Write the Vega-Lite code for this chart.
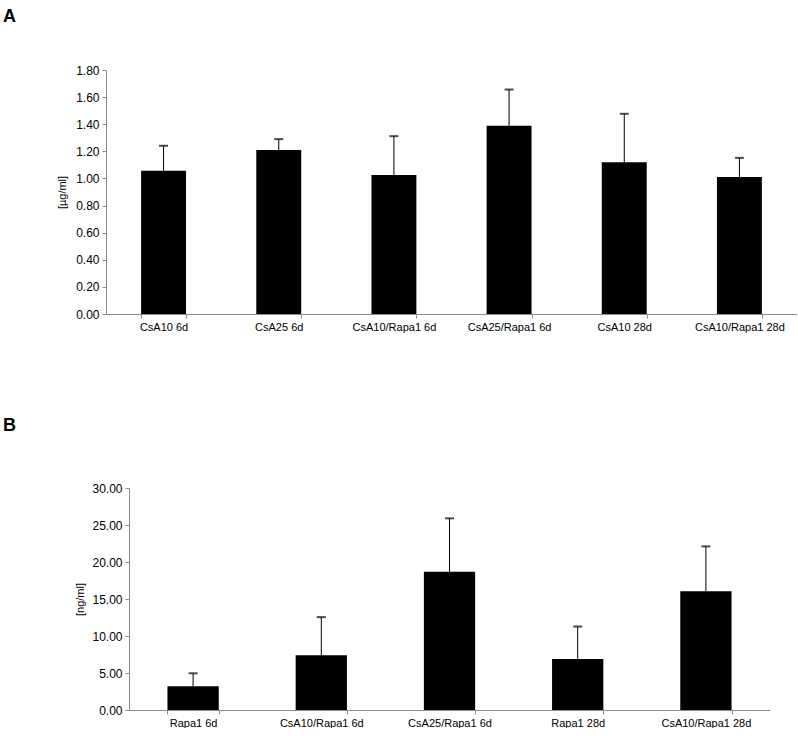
{
  "$schema": "https://vega.github.io/schema/vega-lite/v6.json",
  "background": "white",
  "padding": {"left": 3, "top": 8, "right": 0, "bottom": 0},
  "spacing": 174,
  "bounds": "flush",
  "config": {
    "view": {"stroke": null},
    "font": "Liberation Sans",
    "axis": {
      "labelFont": "Liberation Sans",
      "titleFont": "Liberation Sans",
      "labelFontSize": 11,
      "titleFontSize": 11,
      "titleFontWeight": "normal",
      "labelColor": "#000000",
      "titleColor": "#000000",
      "domainColor": "#8c8c8c",
      "tickColor": "#8c8c8c",
      "tickSize": 4,
      "labelPadding": 3,
      "grid": false
    },
    "axisY": {"labelFontSize": 12},
    "title": {"font": "Liberation Sans", "fontSize": 18, "fontWeight": "bold", "color": "#000000", "anchor": "start", "frame": "group"}
  },
  "datasets": {
    "a": [
      {"group": "CsA10 6d", "mean": 1.056, "upper": 1.241},
      {"group": "CsA25 6d", "mean": 1.209, "upper": 1.290},
      {"group": "CsA10/Rapa1 6d", "mean": 1.025, "upper": 1.312},
      {"group": "CsA25/Rapa1 6d", "mean": 1.388, "upper": 1.656},
      {"group": "CsA10 28d", "mean": 1.120, "upper": 1.477},
      {"group": "CsA10/Rapa1 28d", "mean": 1.010, "upper": 1.152}
    ],
    "b": [
      {"group": "Rapa1 6d", "mean": 3.20, "upper": 4.96},
      {"group": "CsA10/Rapa1 6d", "mean": 7.40, "upper": 12.55},
      {"group": "CsA25/Rapa1 6d", "mean": 18.68, "upper": 25.90},
      {"group": "Rapa1 28d", "mean": 6.90, "upper": 11.28},
      {"group": "CsA10/Rapa1 28d", "mean": 16.06, "upper": 22.11}
    ]
  },
  "vconcat": [
    {
      "data": {"name": "a"},
      "width": 691,
      "height": 244,
      "title": {"text": "A", "dx": -103, "offset": 38},
      "encoding": {
        "x": {
          "field": "group",
          "type": "nominal",
          "sort": null,
          "scale": {"paddingInner": 0.61, "paddingOuter": 0.305},
          "axis": {"title": null, "labelAngle": 0, "tickBand": "extent"}
        }
      },
      "layer": [
        {
          "mark": {"type": "bar", "color": "#000000"},
          "encoding": {
            "y": {
              "field": "mean",
              "type": "quantitative",
              "scale": {"domain": [0, 1.8], "nice": false},
              "axis": {"title": "[µg/ml]", "values": [0, 0.2, 0.4, 0.6, 0.8, 1.0, 1.2, 1.4, 1.6, 1.8], "format": ".2f", "titlePadding": 8}
            }
          }
        },
        {
          "mark": {"type": "rule", "color": "#000000", "strokeWidth": 1},
          "encoding": {
            "y": {"field": "mean", "type": "quantitative", "axis": {"title": "[µg/ml]", "values": [0, 0.2, 0.4, 0.6, 0.8, 1.0, 1.2, 1.4, 1.6, 1.8], "format": ".2f", "titlePadding": 8}},
            "y2": {"field": "upper"}
          }
        },
        {
          "mark": {"type": "tick", "color": "#000000", "thickness": 2, "size": 9, "orient": "horizontal"},
          "encoding": {
            "y": {"field": "upper", "type": "quantitative", "axis": {"title": "[µg/ml]", "values": [0, 0.2, 0.4, 0.6, 0.8, 1.0, 1.2, 1.4, 1.6, 1.8], "format": ".2f", "titlePadding": 8}}
          }
        }
      ]
    },
    {
      "data": {"name": "b"},
      "width": 664,
      "height": 222,
      "title": {"text": "B", "dx": -103, "offset": 47},
      "encoding": {
        "x": {
          "field": "group",
          "type": "nominal",
          "sort": null,
          "scale": {"paddingInner": 0.6, "paddingOuter": 0.3, "range": [23, 664]},
          "axis": {"title": null, "labelAngle": 0, "tickBand": "extent"}
        }
      },
      "layer": [
        {
          "mark": {"type": "bar", "color": "#000000"},
          "encoding": {
            "y": {
              "field": "mean",
              "type": "quantitative",
              "scale": {"domain": [0, 30], "nice": false},
              "axis": {"title": "[ng/ml]", "values": [0, 5, 10, 15, 20, 25, 30], "format": ".2f", "titlePadding": 6, "offset": -23}
            }
          }
        },
        {
          "mark": {"type": "rule", "color": "#000000", "strokeWidth": 1},
          "encoding": {
            "y": {"field": "mean", "type": "quantitative", "axis": {"title": "[ng/ml]", "values": [0, 5, 10, 15, 20, 25, 30], "format": ".2f", "titlePadding": 6, "offset": -23}},
            "y2": {"field": "upper"}
          }
        },
        {
          "mark": {"type": "tick", "color": "#000000", "thickness": 2, "size": 9, "orient": "horizontal"},
          "encoding": {
            "y": {"field": "upper", "type": "quantitative", "axis": {"title": "[ng/ml]", "values": [0, 5, 10, 15, 20, 25, 30], "format": ".2f", "titlePadding": 6, "offset": -23}}
          }
        }
      ]
    }
  ]
}
